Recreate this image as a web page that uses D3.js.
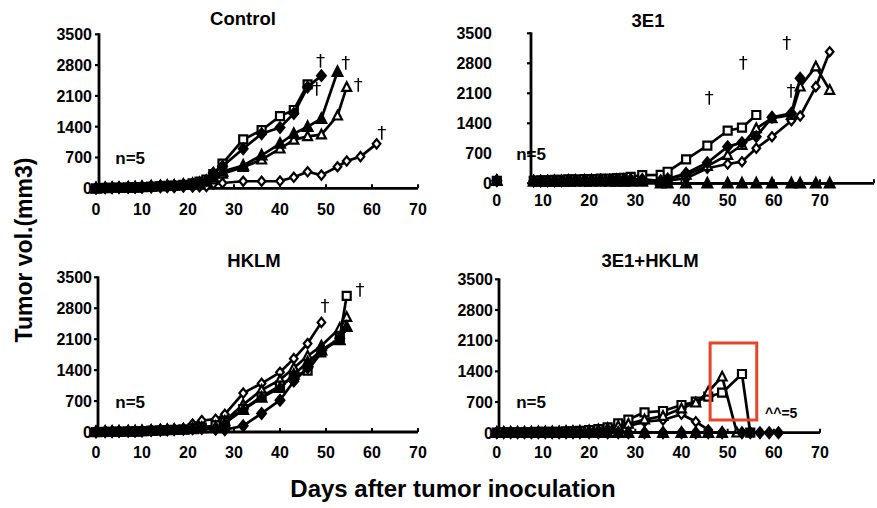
<!DOCTYPE html>
<html><head><meta charset="utf-8">
<script src="https://cdn.jsdelivr.net/npm/d3@7"></script>
<style>
body{margin:0;background:#fff}
svg{display:block}
text{font-family:"Liberation Sans",Arial,sans-serif;font-weight:bold;fill:#000}
.dagger{filter:grayscale(1);font-family:"DejaVu Sans",sans-serif;font-weight:normal}
</style>
</head><body>
<svg id="chart" width="877" height="508"></svg>
<script>
// ---------------- DATA ----------------
const yTicks = [0, 700, 1400, 2100, 2800, 3500];
const xTicks = [0, 10, 20, 30, 40, 50, 60, 70];
const panelTitles = ["Control", "3E1", "HKLM", "3E1+HKLM"];
const nLabel = "n=5";
const yTitle = "Tumor vol.(mm3)";
const xTitle = "Days after tumor inoculation";

// Control
const ctrlDays = [0,2,3.5,5,7,8.5,10,12,14,15.5,17,19,21,22.5,24,25.5,27.5,32,36,40,43,46,49,52.5,54.5,57.5,61];
const ctrlSqO  = [0,10,10,15,20,25,30,40,50,55,60,80,110,150,200,320,560,1110,1320,1640,1780,2360,null,null,null,null,null];
const ctrlDiF  = [0,10,10,15,20,25,30,40,50,55,60,80,100,130,180,350,500,900,1240,1380,1700,2300,2560,null,null,null,null];
const ctrlTrF  = [0,5,10,10,15,20,30,40,50,55,60,80,100,120,160,250,380,520,750,1015,1240,1400,1580,2650,null,null,null];
const ctrlTrO  = [0,5,10,10,15,20,30,40,50,55,60,80,100,110,150,200,330,480,650,900,1100,1180,1220,1650,2300,null,null];
const ctrlDiO  = [0,5,5,5,10,10,10,15,20,20,20,30,30,35,40,100,120,160,160,165,250,375,300,490,620,720,1010];
const ctrlDaggers = [[48.8,2916],[54.3,2877],[48.0,2280],[57.0,2370],[62.1,1286]];

// 3E1
const e1Days = [0,8,9.5,11,12.5,14,15.5,17,19,20.5,22.5,24.5,26,27.5,29,31.5,35.5,37,41,45.6,50,53.1,56.2,59.6,63.8,65.7,69.1,72.1];
const e1SqO = [60,60,70,70,80,80,90,90,100,100,110,110,120,130,150,190,195,270,560,877,1227,1297,1594,null,null,null,null,null];
const e1DiF = [60,50,50,60,60,60,70,70,70,80,80,80,90,90,90,90,60,100,233,481,855,950,1088,1540,1633,2450,null,null];
const e1TrO = [60,50,50,50,60,60,60,60,70,70,70,70,80,80,80,80,50,100,200,400,660,894,1283,1517,1594,2255,2722,2178];
const e1DiO = [60,50,50,50,50,60,60,60,60,60,70,70,70,70,70,70,30,60,120,350,450,504,817,1088,1461,1570,2255,3071];
const e1TrF = [60,40,40,40,40,40,40,40,40,40,40,40,40,40,40,40,0,0,0,0,0,0,0,0,0,0,0,0];
const e1Daggers = [[46.0,2021],[53.4,2837],[62.8,3304],[63.7,2177]];

// HKLM
const hkDays = [0,2,3.5,5,7,8.5,10,12,14,15.5,17,19,21,23,26,28,32,36,40,43,46,49,53,54.5];
const hkDiO = [0,5,5,10,15,15,20,30,40,45,50,60,180,260,290,400,880,1100,1350,1660,2000,2480,null,null];
const hkSqO = [0,5,5,10,15,15,20,30,40,45,50,60,80,100,150,220,520,800,1050,1250,1390,1800,2150,3080];
const hkTrO = [0,5,5,10,15,15,20,30,40,45,50,60,80,100,130,250,620,950,1180,1450,1720,1950,2350,2600];
const hkTrF = [0,5,5,10,15,15,20,30,40,45,50,60,70,90,110,200,500,780,1000,1300,1580,1850,2080,2380];
const hkDiF = [0,5,5,10,15,15,20,30,40,45,50,60,70,80,60,50,140,420,720,1150,1450,1850,2120,null];
const hkDaggers = [[49.8,2873],[57.4,3235]];

// 3E1+HKLM
const cbDays = [0,1.5,3,4.5,6,7.5,9,10.5,12,13.5,15,16.5,18,20,22,24,26.3,28.5,32,36,40,43.1,45.8,48.8,52,53.1,54.9,57,59,61];
const cbSqO = [0,10,10,10,10,10,20,20,20,20,30,30,40,60,80,120,214,300,465,495,632,707,821,913,null,1339,0,null,null,null];
const cbTrO = [0,10,10,10,10,10,20,20,20,20,30,30,40,50,70,100,150,200,300,380,550,685,935,1278,0,null,null,null,null,null];
const cbDiO = [0,10,10,10,10,10,20,20,20,20,30,30,40,50,60,80,100,150,251,290,420,251,62,null,null,null,null,null,null,null];
const cbTrF = [0,0,0,0,0,0,0,0,0,0,0,0,0,0,0,0,0,0,0,0,0,0,0,0,null,null,null,null,null,null];
const cbDiF = [0,0,0,0,0,0,0,0,0,0,0,0,0,0,0,0,0,0,0,0,0,0,0,0,null,0,0,0,0,0];
const cbNote = "^^=5";
const cbNotePos = [58.1, 456];
const cbBox = [[46.2, 2047], [56.3, 290]];
const nPos = [4.2, 690];

// ---------------- DRAW ----------------
const svg = d3.select("#chart");

const symSquare = {draw(ctx, size){ const r = Math.sqrt(size)/2; ctx.moveTo(-r,-r); ctx.lineTo(r,-r); ctx.lineTo(r,r); ctx.lineTo(-r,r); ctx.closePath(); }};
const symDiamond = {draw(ctx, size){ const r = Math.sqrt(size)/2; ctx.moveTo(0,-r*1.2); ctx.lineTo(r,0); ctx.lineTo(0,r*1.2); ctx.lineTo(-r,0); ctx.closePath(); }};
const symTriangle = {draw(ctx, size){ const r = Math.sqrt(size)/2; ctx.moveTo(0,-r*1.15); ctx.lineTo(r*1.05,r*0.9); ctx.lineTo(-r*1.05,r*0.9); ctx.closePath(); }};

const styles = {
  sqO: {type: symSquare, size: 64, fill: "#fff"},
  diF: {type: symDiamond, size: 76, fill: "#000"},
  trF: {type: symTriangle, size: 84, fill: "#000"},
  trO: {type: symTriangle, size: 72, fill: "#fff"},
  diO: {type: symDiamond, size: 58, fill: "#fff"}
};

const panels = [
  {title: panelTitles[0], titlePos: [243, 25], days: ctrlDays,
   series: [["diO", ctrlDiO], ["trO", ctrlTrO], ["sqO", ctrlSqO], ["trF", ctrlTrF], ["diF", ctrlDiF]],
   xr: [96, 418], yr: [188.3, 34.3], yAxisX: 99, xAxisEnd: 418, lblY: 215, yLblRight: 92, lineFrom: 0,
   daggers: ctrlDaggers},
  {title: panelTitles[1], titlePos: [648, 27], days: e1Days,
   series: [["diO", e1DiO], ["trO", e1TrO], ["sqO", e1SqO], ["diF", e1DiF], ["trF", e1TrF]],
   xr: [496.8, 820], yr: [183.3, 33.3], yAxisX: 531, xAxisEnd: 874, lblY: 206, yLblRight: 492, lineFrom: 7,
   daggers: e1Daggers},
  {title: panelTitles[2], titlePos: [254, 267], days: hkDays,
   series: [["diO", hkDiO], ["trO", hkTrO], ["sqO", hkSqO], ["trF", hkTrF], ["diF", hkDiF]],
   xr: [96, 418], yr: [432, 277.3], yAxisX: 98, xAxisEnd: 418, lblY: 458, yLblRight: 92, lineFrom: 0,
   daggers: hkDaggers},
  {title: panelTitles[3], titlePos: [650, 267], days: cbDays,
   series: [["diO", cbDiO], ["sqO", cbSqO], ["trO", cbTrO], ["diF", cbDiF], ["trF", cbTrF]],
   xr: [496.8, 820], yr: [432.7, 279.3], yAxisX: 499, xAxisEnd: 820, lblY: 458, yLblRight: 493, lineFrom: 0,
   daggers: [], note: true}
];

panels.forEach(p => {
  const x = d3.scaleLinear().domain([0, 70]).range(p.xr);
  const y = d3.scaleLinear().domain([0, 3500]).range(p.yr);
  const g = svg.append("g");

  g.append("text").attr("x", p.titlePos[0]).attr("y", p.titlePos[1])
    .attr("text-anchor", "middle").style("font-size", "18.5px").text(p.title);

  // y axis
  g.append("line").attr("x1", p.yAxisX).attr("x2", p.yAxisX)
    .attr("y1", y(3500) - 1).attr("y2", y(0)).attr("stroke", "#000").attr("stroke-width", 2.8);
  g.selectAll(".yt").data(yTicks).enter().append("line")
    .attr("x1", p.yAxisX - 4).attr("x2", p.yAxisX)
    .attr("y1", d => y(d)).attr("y2", d => y(d)).attr("stroke", "#000").attr("stroke-width", 2.2);
  g.selectAll(".yl").data(yTicks).enter().append("text")
    .attr("x", p.yLblRight).attr("y", d => y(d) + 5.8).attr("text-anchor", "end")
    .style("font-size", "16px").text(d => d);

  // x axis
  g.append("line").attr("x1", p.yAxisX).attr("x2", p.xAxisEnd)
    .attr("y1", y(0)).attr("y2", y(0)).attr("stroke", "#000").attr("stroke-width", 2.8);
  g.selectAll(".xt").data(xTicks.filter(t => x(t) > p.yAxisX + 2)).enter().append("line")
    .attr("x1", d => x(d)).attr("x2", d => x(d))
    .attr("y1", y(0) - 4).attr("y2", y(0)).attr("stroke", "#000").attr("stroke-width", 2);
  if (p.xAxisEnd > x(70) + 5) {
    g.append("line").attr("x1", p.xAxisEnd).attr("x2", p.xAxisEnd)
      .attr("y1", y(0) - 4).attr("y2", y(0)).attr("stroke", "#000").attr("stroke-width", 2);
  }
  g.selectAll(".xl").data(xTicks).enter().append("text")
    .attr("x", d => x(d)).attr("y", p.lblY).attr("text-anchor", "middle")
    .style("font-size", "16px").text(d => d);

  g.append("text").attr("x", x(nPos[0])).attr("y", y(nPos[1]) + 6)
    .style("font-size", "17px").text(nLabel);

  const line = d3.line().x(d => x(d.d)).y(d => y(d.v));
  p.series.forEach(([key, vals]) => {
    const st = styles[key];
    const pts = p.days.map((d, i) => ({d, v: vals[i]})).filter(q => q.v != null);
    const linePts = pts.filter(q => q.d >= p.lineFrom);
    g.append("path").attr("d", line(linePts)).attr("fill", "none")
      .attr("stroke", "#000").attr("stroke-width", 2.7).attr("stroke-linejoin", "round");
    const sym = d3.symbol().type(st.type).size(st.size);
    g.selectAll(null).data(pts).enter().append("path")
      .attr("d", sym).attr("transform", d => `translate(${x(d.d)},${y(d.v)})`)
      .attr("fill", st.fill).attr("stroke", "#000").attr("stroke-width", 2.2);
  });

  g.selectAll(".dg").data(p.daggers).enter().append("text")
    .attr("class", "dagger")
    .attr("x", d => x(d[0])).attr("y", d => y(d[1]) + 7).attr("text-anchor", "middle")
    .style("font-size", "18px").text("\u2020");

  if (p.note) {
    g.append("rect").attr("x", x(cbBox[0][0])).attr("y", y(cbBox[0][1]))
      .attr("width", x(cbBox[1][0]) - x(cbBox[0][0])).attr("height", y(cbBox[1][1]) - y(cbBox[0][1]))
      .attr("fill", "none").attr("stroke", "#e5462a").attr("stroke-width", 3);
    g.append("text").attr("x", x(cbNotePos[0])).attr("y", y(cbNotePos[1]) + 5)
      .style("font-size", "14px").text(cbNote);
  }
});

svg.append("text").attr("transform", "translate(32,250) rotate(-90)")
  .attr("text-anchor", "middle").style("font-size", "23px").text(yTitle);
svg.append("text").attr("x", 453).attr("y", 497).attr("text-anchor", "middle")
  .style("font-size", "24px").text(xTitle);
</script>
</body></html>
